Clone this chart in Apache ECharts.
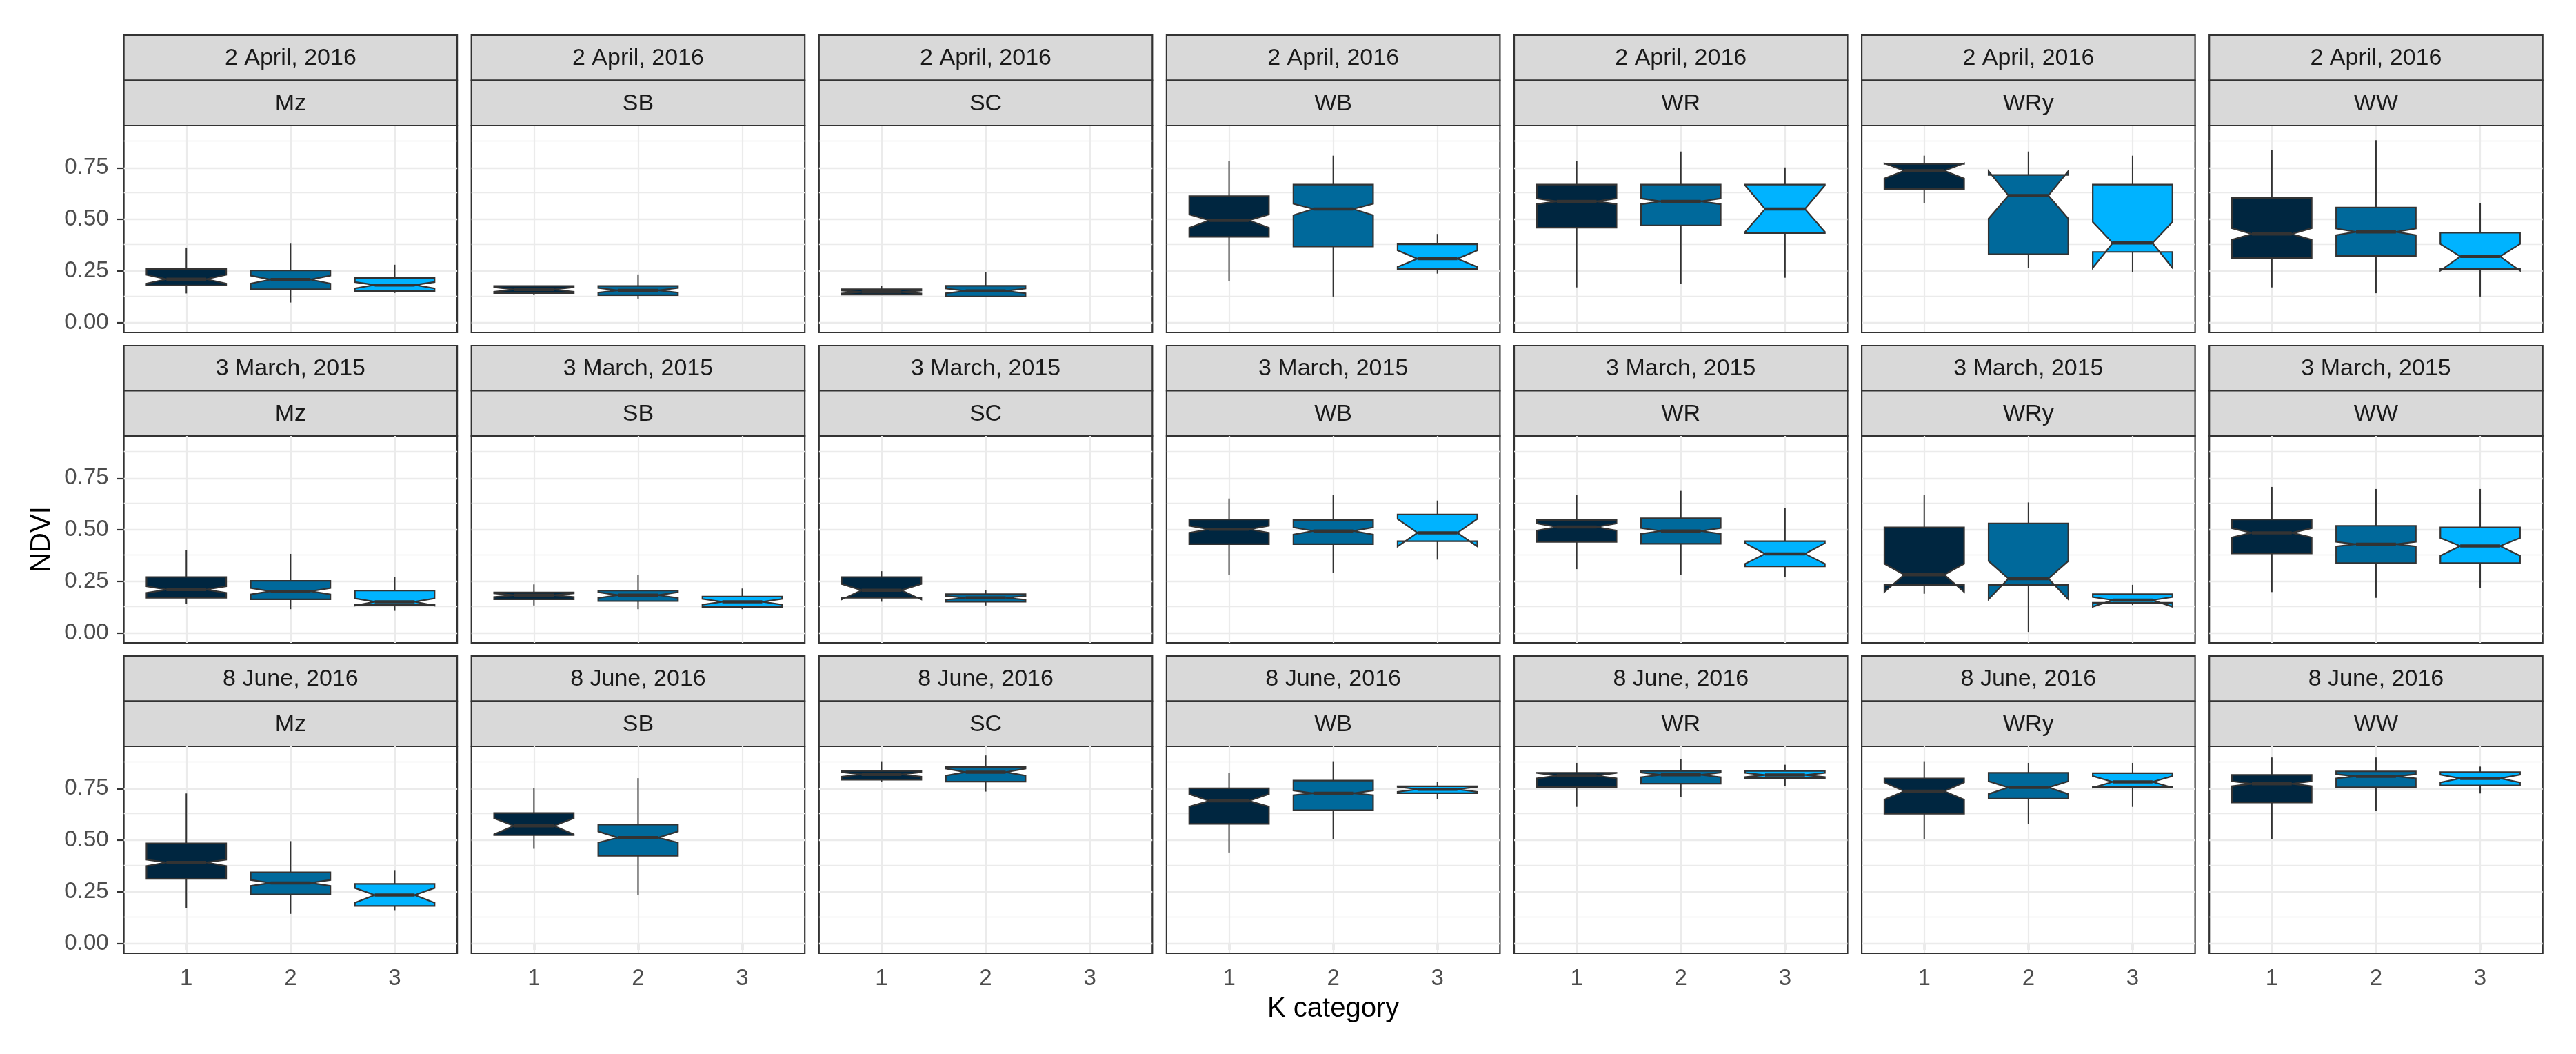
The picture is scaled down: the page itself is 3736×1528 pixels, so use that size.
<!DOCTYPE html>
<html>
<head>
<meta charset="utf-8">
<script src="https://cdn.jsdelivr.net/npm/echarts@6/dist/echarts.min.js"></script>
<style>
html,body{margin:0;padding:0;background:#fff;}
#chart{width:3736px;height:1528px;}
</style>
</head>
<body>
<div id="chart"></div>
<script>
// ---------- data ----------
const dates = ['2 April, 2016', '3 March, 2015', '8 June, 2016'];
const crops = ['Mz', 'SB', 'SC', 'WB', 'WR', 'WRy', 'WW'];
const kCats = [1, 2, 3];
const yTicks = [0, 0.25, 0.5, 0.75];
const yMinorTicks = [0.125, 0.375, 0.625, 0.875];
const kColors = ['#002640', '#00699B', '#00B3FF'];
// each box: [K, lowerWhisker, Q1, notchLow, median, notchHigh, Q3, upperWhisker]
const apr16_Mz  = [[1,0.142,0.181,0.190,0.211,0.232,0.261,0.364],[2,0.098,0.162,0.190,0.209,0.228,0.253,0.383],[3,0.144,0.153,0.166,0.183,0.197,0.217,0.281]];
const apr16_SB  = [[1,0.134,0.144,0.150,0.161,0.172,0.178,0.180],[2,0.117,0.134,0.146,0.157,0.168,0.178,0.234]];
const apr16_SC  = [[1,0.136,0.136,0.142,0.149,0.156,0.162,0.179],[2,0.127,0.127,0.143,0.154,0.166,0.179,0.246]];
const apr16_WB  = [[1,0.201,0.416,0.460,0.496,0.524,0.613,0.782],[2,0.127,0.369,0.521,0.551,0.576,0.669,0.809],[3,0.238,0.260,0.270,0.310,0.350,0.380,0.430]];
const apr16_WR  = [[1,0.171,0.460,0.574,0.588,0.602,0.669,0.782],[2,0.190,0.471,0.574,0.588,0.602,0.669,0.829],[3,0.218,0.434,0.440,0.551,0.665,0.669,0.752]];
const apr16_WRy = [[1,0.580,0.647,0.699,0.736,0.772,0.769,0.809],[2,0.266,0.332,0.504,0.616,0.734,0.716,0.829],[3,0.247,0.343,0.266,0.386,0.488,0.669,0.809]];
const apr16_WW  = [[1,0.171,0.313,0.402,0.430,0.458,0.604,0.838],[2,0.143,0.323,0.424,0.440,0.456,0.558,0.884],[3,0.127,0.260,0.252,0.321,0.382,0.436,0.579]];
const mar15_Mz  = [[1,0.141,0.171,0.195,0.211,0.227,0.272,0.403],[2,0.116,0.164,0.188,0.203,0.218,0.253,0.384],[3,0.108,0.136,0.133,0.152,0.168,0.206,0.273]];
const mar15_SB  = [[1,0.134,0.164,0.175,0.184,0.193,0.197,0.236],[2,0.116,0.155,0.170,0.184,0.198,0.206,0.283],[3,0.116,0.127,0.138,0.152,0.166,0.177,0.216]];
const mar15_SC  = [[1,0.152,0.171,0.163,0.208,0.238,0.272,0.300],[2,0.134,0.152,0.162,0.171,0.180,0.189,0.207]];
const mar15_WB  = [[1,0.283,0.431,0.486,0.503,0.520,0.550,0.652],[2,0.292,0.431,0.478,0.495,0.512,0.547,0.670],[3,0.356,0.445,0.420,0.486,0.553,0.575,0.642]];
const mar15_WR  = [[1,0.310,0.442,0.497,0.514,0.531,0.547,0.670],[2,0.283,0.433,0.481,0.495,0.509,0.556,0.689],[3,0.273,0.323,0.336,0.384,0.436,0.445,0.605]];
const mar15_WRy = [[1,0.191,0.233,0.200,0.283,0.336,0.512,0.670],[2,0.006,0.233,0.164,0.264,0.349,0.531,0.633],[3,0.136,0.147,0.128,0.160,0.175,0.189,0.234]];
const mar15_WW  = [[1,0.199,0.386,0.464,0.486,0.508,0.550,0.708],[2,0.171,0.339,0.420,0.431,0.442,0.520,0.698],[3,0.219,0.339,0.375,0.422,0.461,0.512,0.698]];
const jun16_Mz  = [[1,0.171,0.313,0.376,0.393,0.406,0.485,0.727],[2,0.144,0.238,0.280,0.294,0.308,0.345,0.496],[3,0.162,0.182,0.198,0.235,0.269,0.289,0.356]];
const jun16_SB  = [[1,0.459,0.525,0.529,0.570,0.607,0.632,0.754],[2,0.235,0.425,0.489,0.513,0.543,0.576,0.801]];
const jun16_SC  = [[1,0.783,0.793,0.808,0.819,0.830,0.836,0.883],[2,0.736,0.784,0.813,0.830,0.847,0.855,0.911]];
const jun16_WB  = [[1,0.441,0.580,0.663,0.691,0.724,0.752,0.828],[2,0.505,0.646,0.719,0.728,0.741,0.789,0.883],[3,0.700,0.728,0.735,0.747,0.759,0.762,0.782]];
const jun16_WR  = [[1,0.662,0.758,0.800,0.813,0.826,0.827,0.875],[2,0.708,0.774,0.806,0.817,0.828,0.836,0.894],[3,0.763,0.802,0.806,0.816,0.826,0.836,0.866]];
const jun16_WRy = [[1,0.505,0.629,0.697,0.738,0.780,0.799,0.883],[2,0.580,0.702,0.724,0.756,0.786,0.827,0.875],[3,0.662,0.758,0.755,0.783,0.811,0.825,0.875]];
const jun16_WW  = [[1,0.507,0.683,0.762,0.774,0.786,0.817,0.901],[2,0.643,0.757,0.800,0.810,0.820,0.834,0.901],[3,0.727,0.766,0.780,0.800,0.818,0.830,0.857]];

const panelData = [
  [apr16_Mz, apr16_SB, apr16_SC, apr16_WB, apr16_WR, apr16_WRy, apr16_WW],
  [mar15_Mz, mar15_SB, mar15_SC, mar15_WB, mar15_WR, mar15_WRy, mar15_WW],
  [jun16_Mz, jun16_SB, jun16_SC, jun16_WB, jun16_WR, jun16_WRy, jun16_WW]
];

// ---------- layout ----------
const PANEL_L0 = 179.6, PANEL_PITCH = 504.1, PANEL_W = 483.5;
const ROW_TOP0 = 51, ROW_PITCH = 450, STRIP_H = 65.5, PLOT_H = 300;
const Y_MIN = -0.047, Y_MAX = 0.955, X_MIN = 0.4, X_MAX = 3.6;
const BOX_W = 0.765;
const FONT = '"Liberation Sans", Arial, Helvetica, sans-serif';
const BORDER = '#333333';

const grids = [], xAxes = [], yAxes = [], series = [], graphics = [];

function renderBox(params, api) {
  const k = api.value(0);
  const wlo = api.value(1), q1 = api.value(2), nlo = api.value(3), med = api.value(4),
        nhi = api.value(5), q3 = api.value(6), whi = api.value(7);
  const hw = BOX_W / 2;
  const P = (x, y) => api.coord([x, y]);
  const pts = [P(k - hw, q3), P(k - hw, nhi), P(k - hw / 2, med), P(k - hw, nlo), P(k - hw, q1),
               P(k + hw, q1), P(k + hw, nlo), P(k + hw / 2, med), P(k + hw, nhi), P(k + hw, q3)];
  const a = P(k, q3), b = P(k, whi), c = P(k, q1), d = P(k, wlo);
  const m1 = P(k - hw / 2, med), m2 = P(k + hw / 2, med);
  return {
    type: 'group',
    children: [
      { type: 'line', shape: { x1: a[0], y1: a[1], x2: b[0], y2: b[1] }, style: { stroke: BORDER, lineWidth: 2 } },
      { type: 'line', shape: { x1: c[0], y1: c[1], x2: d[0], y2: d[1] }, style: { stroke: BORDER, lineWidth: 2 } },
      { type: 'polygon', shape: { points: pts }, style: { fill: api.visual('color'), stroke: BORDER, lineWidth: 2.2, lineJoin: 'miter' } },
      { type: 'line', shape: { x1: m1[0], y1: m1[1], x2: m2[0], y2: m2[1] }, style: { stroke: BORDER, lineWidth: 4.5 } }
    ]
  };
}

let idx = 0;
for (let r = 0; r < dates.length; r++) {
  for (let c = 0; c < crops.length; c++) {
    const left = PANEL_L0 + c * PANEL_PITCH;
    const stripTop = ROW_TOP0 + r * ROW_PITCH;
    const plotTop = stripTop + 2 * STRIP_H;
    grids.push({
      left: left, top: plotTop, width: PANEL_W, height: PLOT_H,
      show: true, borderColor: BORDER, borderWidth: 2.2, backgroundColor: '#fff',
      containLabel: false, outerBoundsMode: 'none'
    });
    const isBottom = r === dates.length - 1;
    const isLeft = c === 0;
    xAxes.push({
      gridIndex: idx, type: 'value', min: X_MIN, max: X_MAX,
      axisLine: { show: false },
      splitLine: { show: false },
      axisTick: { show: isBottom, length: 9, lineStyle: { color: BORDER, width: 2.2 }, customValues: kCats },
      axisLabel: { show: isBottom, customValues: kCats, margin: 20, color: '#4D4D4D', fontSize: 33, fontFamily: FONT,
                   formatter: v => String(v) }
    });
    yAxes.push({
      gridIndex: idx, type: 'value', min: Y_MIN, max: Y_MAX,
      axisLine: { show: false },
      splitLine: { show: false },
      axisTick: { show: isLeft, length: 10, lineStyle: { color: BORDER, width: 2.2 }, customValues: yTicks },
      axisLabel: { show: isLeft, customValues: yTicks, margin: 22, color: '#4D4D4D', fontSize: 33, fontFamily: FONT,
                   formatter: v => v.toFixed(2) }
    });
    // grid lines
    series.push({
      type: 'line', xAxisIndex: idx, yAxisIndex: idx, data: [], z: 1, silent: true,
      markLine: {
        silent: true, symbol: 'none', z: 1, animation: false,
        label: { show: false }, emphasis: { disabled: true },
        lineStyle: { color: '#EBEBEB', type: 'solid', width: 2.2 },
        data: [
          ...yMinorTicks.map(v => ({ yAxis: v, lineStyle: { color: '#EBEBEB', type: 'solid', width: 1.4 } })),
          ...yTicks.map(v => ({ yAxis: v, lineStyle: { color: '#EBEBEB', type: 'solid', width: 2.4 } })),
          ...kCats.map(v => ({ xAxis: v, lineStyle: { color: '#EBEBEB', type: 'solid', width: 2.2 } }))
        ]
      }
    });
    // boxes
    series.push({
      type: 'custom', xAxisIndex: idx, yAxisIndex: idx, z: 3,
      renderItem: renderBox,
      encode: { x: 0, y: [1, 2, 3, 4, 5, 6, 7] },
      data: panelData[r][c].map(b => ({ value: b, itemStyle: { color: kColors[b[0] - 1] } }))
    });
    // strips
    [dates[r], crops[c]].forEach((label, s) => {
      const y0 = stripTop + s * STRIP_H;
      graphics.push({
        type: 'rect', shape: { x: left, y: y0, width: PANEL_W, height: STRIP_H },
        style: { fill: '#D9D9D9', stroke: BORDER, lineWidth: 2.2 }, silent: true
      });
      graphics.push({
        type: 'text', x: left + PANEL_W / 2, y: y0 + STRIP_H / 2 + 1,
        style: { text: label, fill: '#1A1A1A', font: '34px ' + FONT, align: 'center', verticalAlign: 'middle' },
        silent: true
      });
    });
    idx++;
  }
}

const plotsTop = ROW_TOP0 + 2 * STRIP_H;
const plotsBottom = ROW_TOP0 + 2 * ROW_PITCH + 2 * STRIP_H + PLOT_H;
graphics.push({
  type: 'text', x: 61, y: (plotsTop + plotsBottom) / 2, rotation: Math.PI / 2,
  style: { text: 'NDVI', fill: '#000', font: '40px ' + FONT, align: 'center', verticalAlign: 'middle' }, silent: true
});
graphics.push({
  type: 'text', x: PANEL_L0 + (6 * PANEL_PITCH + PANEL_W) / 2, y: 1463,
  style: { text: 'K category', fill: '#000', font: '40px ' + FONT, align: 'center', verticalAlign: 'middle' }, silent: true
});

const chart = echarts.init(document.getElementById('chart'), null, { renderer: 'canvas' });
chart.setOption({
  animation: false,
  backgroundColor: '#fff',
  textStyle: { fontFamily: FONT },
  grid: grids,
  xAxis: xAxes,
  yAxis: yAxes,
  series: series,
  graphic: { elements: graphics }
});
</script>
</body>
</html>
